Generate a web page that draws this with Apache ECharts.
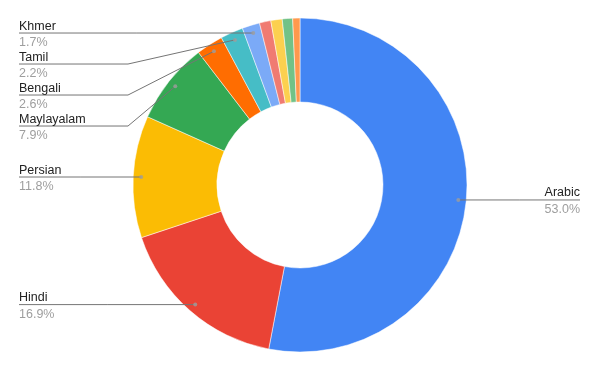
<!DOCTYPE html>
<html>
<head>
<meta charset="utf-8">
<script src="https://cdn.jsdelivr.net/npm/echarts@6/dist/echarts.min.js"></script>
<style>
html,body{margin:0;padding:0;background:#fff;}
#chart{width:600px;height:371px;}
</style>
</head>
<body>
<div id="chart"></div>
<script>
// ---- data ----
const categories = ['Arabic','Hindi','Persian','Maylayalam','Bengali','Tamil','Khmer','Other 1','Other 2','Other 3','Other 4'];
const values = [53.0, 16.9, 11.8, 7.9, 2.6, 2.2, 1.7, 1.1, 1.1, 1.0, 0.7];
const showLabel = [true, true, true, true, true, true, true, false, false, false, false];
const colors = ['#4285f4','#ea4335','#fbbc04','#34a853','#ff6d01','#46bdc6','#7baaf7','#f07b72','#fcd04f','#71c287','#ff994d'];

// ---- geometry / style ----
const CX = 300, CY = 185, R_OUT = 167, R_IN = 83, R_DOT = 159;
const LEFT_X = 19, RIGHT_X = 580, LEFT_BEND = 128, GAP = 31, TEXT_DY = 1.3;

const total = values.reduce((a, b) => a + b, 0);
const mids = [];
let cum = 0;
values.forEach(v => { mids.push(cum + v / 2); cum += v; });

// label layout (computed from data mid angles)
const layout = values.map((v, i) => {
  const a = 2 * Math.PI * mids[i] / total;
  return { dx: CX + R_DOT * Math.sin(a), dy: CY - R_DOT * Math.cos(a) };
});
['left', 'right'].forEach(side => {
  const idx = values.map((_, i) => i).filter(i => showLabel[i] && (side === 'left' ? layout[i].dx < CX : layout[i].dx >= CX));
  idx.sort((a, b) => layout[a].dy - layout[b].dy);
  let prev = -Infinity;
  idx.forEach(i => {
    const y = Math.max(layout[i].dy, prev + GAP);
    layout[i].y = y; layout[i].side = side; prev = y;
  });
});

const pieData = categories.map((c, i) => ({
  name: c, value: values[i],
  itemStyle: { color: colors[i] }
}));
const labelData = categories.map((c, i) => ({
  name: c, value: values[i],
  label: { show: showLabel[i] },
  labelLine: { show: showLabel[i] }
}));

const dotData = values.map((v, i) => showLabel[i] ? [1, mids[i]] : null).filter(d => d);

const chart = echarts.init(document.getElementById('chart'), null, { renderer: 'canvas' });
chart.setOption({
  animation: false,
  backgroundColor: '#ffffff',
  polar: { center: [CX, CY], radius: R_DOT },
  angleAxis: { type: 'value', min: 0, max: total, startAngle: 90, clockwise: true, show: false },
  radiusAxis: { type: 'value', min: 0, max: 1, show: false },
  series: [
    {
      type: 'pie',
      z: 2,
      center: [CX, CY],
      radius: [R_IN, R_OUT],
      startAngle: 90,
      clockwise: true,
      silent: true,
      emphasis: { disabled: true },
      itemStyle: { borderColor: '#ffffff', borderWidth: 0.5 },
      label: { show: false },
      labelLine: { show: false },
      data: pieData
    },
    {
      type: 'pie',
      z: 4,
      center: [CX, CY],
      radius: [R_IN, R_OUT],
      startAngle: 90,
      clockwise: true,
      avoidLabelOverlap: false,
      silent: true,
      emphasis: { disabled: true },
      itemStyle: { color: 'rgba(0,0,0,0)', borderWidth: 0 },
      label: {
        show: true,
        position: 'outside',
        formatter: p => '{n|' + p.name + '}\n{v|' + p.value.toFixed(1) + '%}',
        rich: {
          n: { fontFamily: 'Liberation Sans, Arial', fontSize: 12.5, color: '#222222', lineHeight: 16.5 },
          v: { fontFamily: 'Liberation Sans, Arial', fontSize: 12.5, color: '#9e9e9e', lineHeight: 16.5 }
        }
      },
      labelLine: { show: true, showAbove: true, lineStyle: { color: '#757575', width: 1, opacity: 1 } },
      labelLayout: function (params) {
        const L = layout[params.dataIndex];
        if (!L || L.y == null) return {};
        if (L.side === 'left') {
          const bx = Math.abs(L.y - L.dy) < 0.5 ? (L.dx + LEFT_X) / 2 : LEFT_BEND;
          return {
            x: LEFT_X, y: L.y + TEXT_DY, align: 'left', verticalAlign: 'middle',
            labelLinePoints: [[L.dx, L.dy], [bx, L.y], [LEFT_X, L.y]]
          };
        }
        return {
          x: RIGHT_X, y: L.y + TEXT_DY, align: 'right', verticalAlign: 'middle',
          labelLinePoints: [[L.dx, L.dy], [(L.dx + RIGHT_X) / 2, L.y], [RIGHT_X, L.y]]
        };
      },
      data: labelData
    },
    {
      type: 'scatter',
      coordinateSystem: 'polar',
      symbol: 'circle',
      symbolSize: 4,
      silent: true,
      z: 5,
      itemStyle: { color: '#9e9e9e' },
      data: dotData
    }
  ]
});
</script>
</body>
</html>
